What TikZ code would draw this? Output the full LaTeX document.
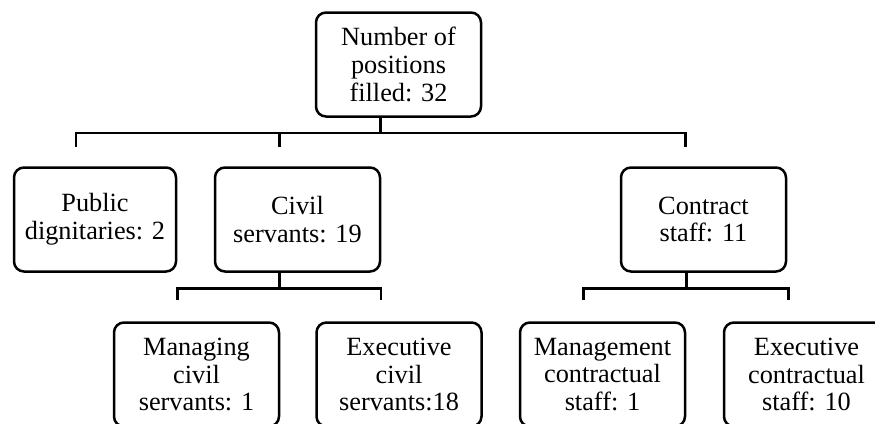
\documentclass[tikz,border=0pt]{standalone}
\usepackage{fontspec}
\setmainfont{Liberation Serif}
\tikzset{
  orgbox/.style={draw=black, line width=2.5pt, rounded corners=10pt, fill=white,
    align=center, inner sep=0pt, minimum width=165pt, minimum height=104pt,
    font=\fontsize{26.3}{27.8}\selectfont},
  link/.style={draw=black, line width=2.5pt}
}
\begin{document}
\begin{tikzpicture}[x=1pt,y=-1pt]
\useasboundingbox (0,0) rectangle (875,423);
\clip (0,0) rectangle (875,423);
\node[orgbox] (top) at (398.5,64.5) {Number of\\positions\\filled: 32};
\node[orgbox, minimum width=162pt] (pub) at (95,219.5) {Public\\dignitaries: 2};
\node[orgbox] (civ) at (297.5,219.5) {Civil\\servants: 19};
\node[orgbox] (con) at (703.5,219.5) {Contract\\staff: 11};
\node[orgbox] (mcs) at (196.5,374.5) {Managing\\civil\\servants: 1};
\node[orgbox] (ecs) at (399,374.5) {Executive\\civil\\servants:18};
\node[orgbox] (mcon) at (602.5,374.5) {Management\\contractual\\staff: 1};
\node[orgbox] (econ) at (806.5,374.5) {Executive\\contractual\\staff: 10};
% level 1 connectors
\coordinate (bus1) at (0,133);
\coordinate (dpub) at ([xshift=-19pt]pub.north |- 0,147);
\coordinate (dciv) at ([xshift=-18pt]civ.north |- 0,147);
\coordinate (dcon) at ([xshift=-18pt]con.north |- 0,147);
\draw[link] ([xshift=-18pt]top.south) -- ([xshift=-18pt]top.south |- bus1);
\draw[link] (dpub) -- (dpub |- bus1) -- (dcon |- bus1) -- (dcon);
\draw[link] (dciv) -- (dciv |- bus1);
% level 2 connectors
\coordinate (bus2) at (0,288.5);
\coordinate (dmcs) at ([xshift=-19pt]mcs.north |- 0,300);
\coordinate (decs) at ([xshift=-18pt]ecs.north |- 0,300);
\coordinate (dmcon) at ([xshift=-19pt]mcon.north |- 0,300);
\coordinate (decon) at ([xshift=-18pt]econ.north |- 0,300);
\draw[link] ([xshift=-18pt]civ.south) -- ([xshift=-18pt]civ.south |- bus2);
\draw[link] (dmcs) -- (dmcs |- bus2) -- (decs |- bus2) -- (decs);
\draw[link] ([xshift=-17pt]con.south) -- ([xshift=-17pt]con.south |- bus2);
\draw[link] (dmcon) -- (dmcon |- bus2) -- (decon |- bus2) -- (decon);
\end{tikzpicture}
\end{document}
